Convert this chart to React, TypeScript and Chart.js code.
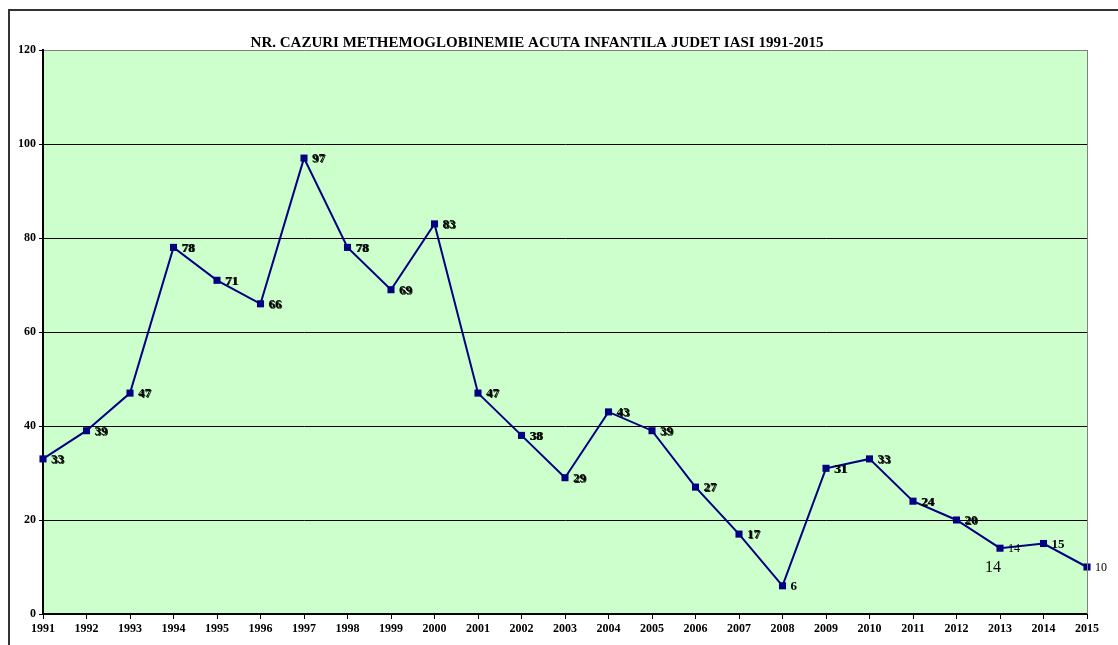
import React, { useEffect, useRef } from "react";
import { Chart, registerables } from "chart.js";

Chart.register(...registerables);

const TITLE = "NR. CAZURI METHEMOGLOBINEMIE ACUTA INFANTILA JUDET IASI 1991-2015";
const years = [
  "1991", "1992", "1993", "1994", "1995", "1996", "1997", "1998", "1999", "2000",
  "2001", "2002", "2003", "2004", "2005", "2006", "2007", "2008", "2009", "2010",
  "2011", "2012", "2013", "2014", "2015",
];
const cases = [33, 39, 47, 78, 71, 66, 97, 78, 69, 83, 47, 38, 29, 43, 39, 27, 17, 6, 31, 33, 24, 20, 14, 15, 10];
const yTicks = [0, 20, 40, 60, 80, 100, 120];
const extraLabelIndex = 22; // stray "14" text box near 2013

const SERIF = "'Liberation Serif', 'Times New Roman', serif";

// label rendering style per index: 'd' doubled bold, 'b' bold, 'n' normal small
const labelStyle = (i: number) => {
  if (i === 22 || i === 24) return "n";
  if (i === 17 || i === 23) return "b";
  return "d";
};

const decorPlugin = {
  id: "decor",
  beforeDraw(chart: any) {
    const { ctx, chartArea, width, height } = chart;
    ctx.save();
    ctx.fillStyle = "#ffffff";
    ctx.fillRect(0, 0, width, height);
    ctx.fillStyle = "#CCFFCC";
    ctx.fillRect(chartArea.left, chartArea.top, chartArea.right - chartArea.left, chartArea.bottom - chartArea.top);
    ctx.restore();
  },
  afterDraw(chart: any) {
    const { ctx, chartArea, width, height } = chart;
    ctx.save();
    // right border of plot
    ctx.strokeStyle = "#808080";
    ctx.lineWidth = 1;
    ctx.beginPath();
    ctx.moveTo(chartArea.right + 0.5, chartArea.top);
    ctx.lineTo(chartArea.right + 0.5, chartArea.bottom);
    ctx.stroke();
    // outer frame
    ctx.strokeStyle = "#333333";
    ctx.lineWidth = 2;
    ctx.beginPath();
    ctx.moveTo(9, height);
    ctx.lineTo(9, 10);
    ctx.lineTo(width, 10);
    ctx.stroke();
    // title
    ctx.fillStyle = "#000";
    ctx.font = `bold 15px ${SERIF}`;
    ctx.textAlign = "center";
    ctx.textBaseline = "alphabetic";
    ctx.fillText(TITLE, 537, 47);
    // data labels
    const meta = chart.getDatasetMeta(0);
    meta.data.forEach((pt: any, i: number) => {
      const v = String(cases[i]);
      const x = pt.x + 8;
      const y = pt.y + 1;
      ctx.textAlign = "left";
      ctx.textBaseline = "middle";
      const st = labelStyle(i);
      if (st === "n") {
        ctx.font = `12px ${SERIF}`;
        ctx.fillText(v, x, y);
      } else if (st === "b") {
        ctx.font = `bold 13px ${SERIF}`;
        ctx.fillText(v, x, y);
      } else {
        ctx.font = `bold 13px ${SERIF}`;
        ctx.fillStyle = "rgba(0,0,0,0.85)";
        ctx.fillText(v, x + 1, y + 0.5);
        ctx.fillStyle = "#000";
        ctx.fillText(v, x, y);
      }
      if (i === extraLabelIndex) {
        ctx.font = `16px ${SERIF}`;
        ctx.textAlign = "center";
        ctx.fillText(v, pt.x - 7, pt.y + 20);
      }
    });
    ctx.restore();
  },
};

export default function App() {
  const ref = useRef<HTMLCanvasElement | null>(null);
  useEffect(() => {
    if (!ref.current) return;
    const chart = new Chart(ref.current, {
      type: "line",
      data: {
        labels: years,
        datasets: [
          {
            data: cases,
            borderColor: "#000080",
            backgroundColor: "#000080",
            borderWidth: 2,
            pointStyle: "rect",
            pointRadius: 5,
            pointBackgroundColor: "#000080",
            pointBorderColor: "#000080",
            pointBorderWidth: 0,
            tension: 0,
            fill: false,
          },
        ],
      },
      options: {
        responsive: false,
        animation: false,
        layout: { padding: { top: 50, right: 31, left: 0, bottom: 0 } },
        plugins: {
          legend: { display: false },
          title: { display: false },
          tooltip: { enabled: false },
        },
        scales: {
          x: {
            type: "category",
            offset: false,
            grid: {
              display: true,
              drawOnChartArea: false,
              drawTicks: true,
              tickLength: 5,
              color: "#000",
            },
            border: { display: true, color: "#000", width: 2 },
            ticks: {
              color: "#000",
              font: { family: SERIF, size: 12, weight: "bold" },
              maxRotation: 0,
              autoSkip: false,
              padding: 3,
            },
            afterFit(scale: any) {
              scale.height = 31;
            },
          },
          y: {
            min: 0,
            max: 120,
            afterBuildTicks(scale: any) {
              scale.ticks = yTicks.map((v) => ({ value: v }));
            },
            grid: {
              color: (c: any) => (c.tick && c.tick.value === 120 ? "#808080" : "#000"),
              lineWidth: 1,
              drawTicks: true,
              tickLength: 4,
              tickColor: "#000",
            },
            border: { display: true, color: "#000", width: 2 },
            ticks: {
              color: "#000",
              font: { family: SERIF, size: 12, weight: "bold" },
              padding: 3,
            },
            afterFit(scale: any) {
              scale.width = 43;
            },
          },
        },
      },
      plugins: [decorPlugin],
    });
    return () => chart.destroy();
  }, []);
  return (
    <div style={{ position: "fixed", left: 0, top: 0, width: 1118, height: 645, background: "#fff" }}>
      <canvas ref={ref} width={1118} height={645} />
    </div>
  );
}
